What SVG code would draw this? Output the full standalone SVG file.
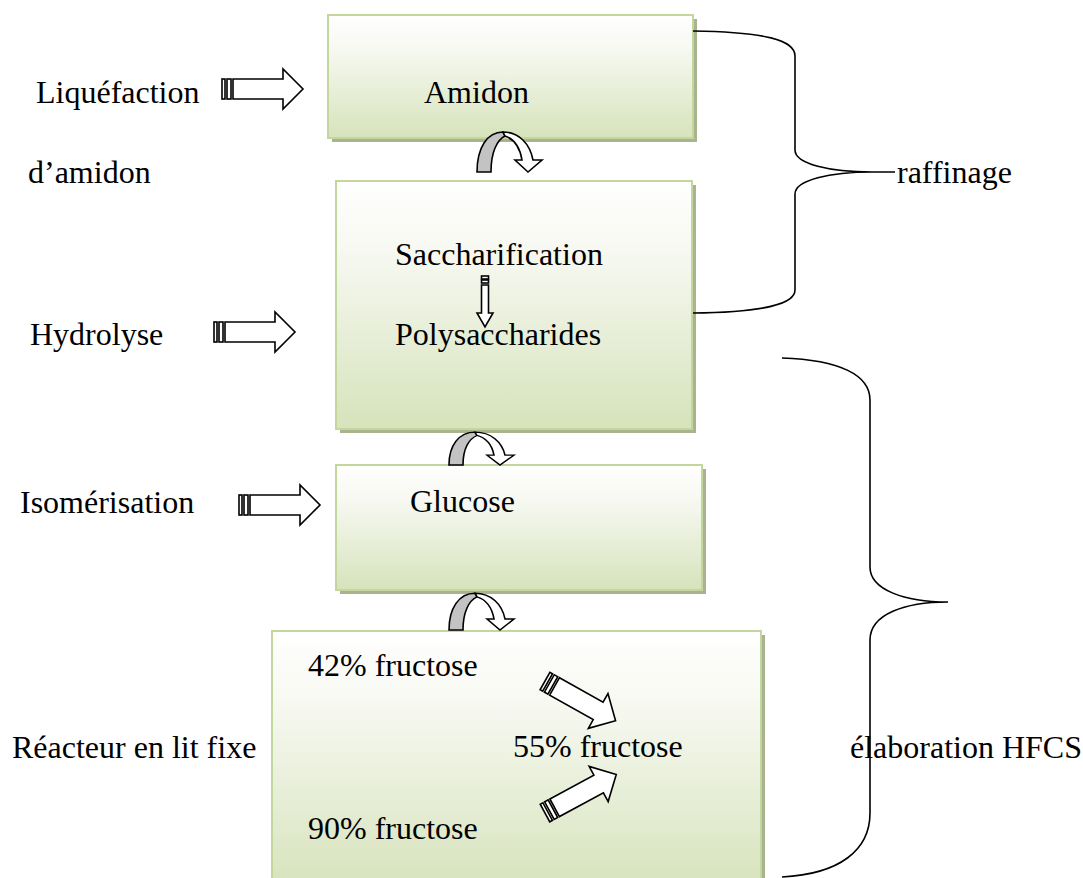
<svg xmlns="http://www.w3.org/2000/svg" width="1083" height="878" viewBox="0 0 1083 878">
<style>
text{font-family:"Liberation Serif","Times New Roman",serif;font-size:32px;fill:#000}
.box{fill:url(#g);stroke:#c3d69b;stroke-width:2}
.sh{fill:#a8b48f}
.ar{fill:#fff;stroke:#000;stroke-width:1.6;stroke-linejoin:miter}
.br{fill:none;stroke:#000;stroke-width:1.6}
.cg{fill:#c3c3c3;stroke:#000;stroke-width:1.6}
</style>
<defs>
<linearGradient id="g" x1="0" y1="0" x2="0" y2="1">
<stop offset="0" stop-color="#ffffff"/>
<stop offset="0.3" stop-color="#f6f8f0"/>
<stop offset="1" stop-color="#d6e3bb"/>
</linearGradient>
<g id="sa">
<rect class="ar" x="0" y="-10" width="3" height="20"/>
<rect class="ar" x="5" y="-10" width="4" height="20"/>
<path class="ar" d="M11,-10 L61,-10 L61,-20 L81,0 L61,20 L61,10 L11,10 Z"/>
</g>
<g id="ca">
<path class="cg" d="M0,0 L14,0 C14,-20 20,-32 28,-36 L26,-40 C10,-40 0,-24 0,0 Z"/>
<path class="ar" d="M26,-40 C42,-40 53,-28 56,-12 L65,-12 L51,0 L38,-12 L45,-12 C43,-24 37,-33 28,-36 Z"/>
</g>
</defs>

<g id="node-amidon">
<rect class="sh" x="332" y="19" width="365" height="123"/>
<rect class="box" x="328" y="15" width="365" height="123"/>
<text x="424" y="103">Amidon</text>
</g>

<g id="node-polysaccharides">
<rect class="sh" x="340" y="185" width="356" height="248"/>
<rect class="box" x="336" y="181" width="356" height="248"/>
<text x="395" y="265">Saccharification</text>
<text x="395" y="345">Polysaccharides</text>
<rect class="ar" x="481.5" y="276" width="7" height="3"/>
<rect class="ar" x="481.5" y="280" width="7" height="3"/>
<path class="ar" d="M481.5,285 L488.5,285 L488.5,313 L493,313 L485,327 L477,313 L481.5,313 Z"/>
</g>

<g id="node-glucose">
<rect class="sh" x="340" y="469" width="366" height="125"/>
<rect class="box" x="336" y="465" width="366" height="125"/>
<text x="410" y="512">Glucose</text>
</g>

<g id="node-fructose">
<rect class="sh" x="276" y="635" width="489" height="260"/>
<rect class="box" x="272" y="631" width="489" height="260"/>
<text x="308" y="676">42% fructose</text>
<text x="513" y="757">55% fructose</text>
<text x="308" y="839">90% fructose</text>
</g>

<g id="labels">
<text x="36" y="103">Liquéfaction</text>
<text x="28" y="183">d’amidon</text>
<text x="30" y="345">Hydrolyse</text>
<text x="20" y="513">Isomérisation</text>
<text x="12" y="758">Réacteur en lit fixe</text>
<text x="897" y="183">raffinage</text>
<text x="850" y="758">élaboration HFCS</text>
</g>

<g id="connectors">
<use href="#sa" transform="translate(222,89)"/>
<use href="#sa" transform="translate(214,332)"/>
<use href="#sa" transform="translate(239,505)"/>
<use href="#sa" transform="translate(545,681) rotate(29.4)"/>
<use href="#sa" transform="translate(545,813) rotate(-28.4)"/>
<use href="#ca" transform="translate(477,172)"/>
<use href="#ca" transform="translate(449,465) scale(1,0.82)"/>
<use href="#ca" transform="translate(449,630) scale(1,0.92)"/>
<path class="br" d="M693,31 C765,32 795,40 795,56 L795,150 C795,164 830,172 872,172 L895,172 M872,172 C830,172 795,180 795,194 L795,290 C795,304 765,312 693,313"/>
<path class="br" d="M782,358 C840,360 870,375 870,400 L870,567 C870,590 905,602 948,602 M948,602 C905,602 870,614 870,640 L870,813 C870,850 840,874 782,877"/>
</g>
</svg>
